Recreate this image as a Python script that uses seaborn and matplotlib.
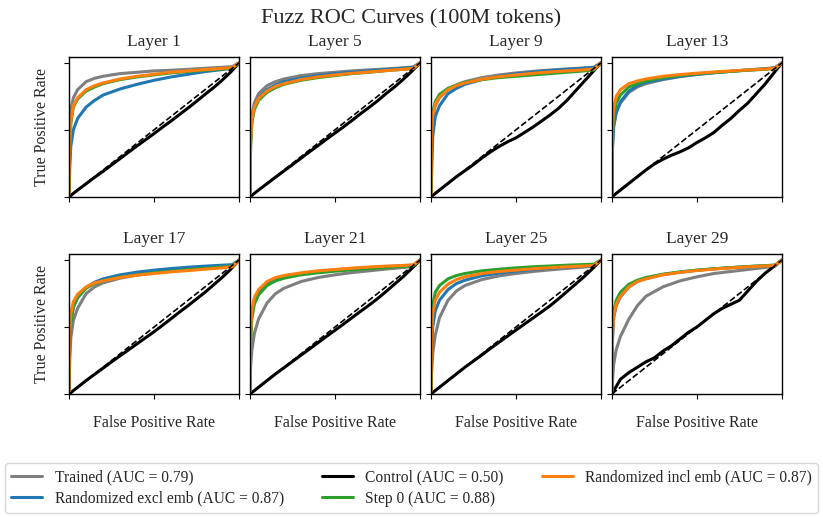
import numpy as np
import pandas as pd
import matplotlib
matplotlib.use("Agg")
import matplotlib.pyplot as plt
from matplotlib.lines import Line2D
import seaborn as sns

# ---- data -----------------------------------------------------------------
LAYERS = [1, 5, 9, 13, 17, 21, 25, 29]
MODELS = ["Trained", "Randomized excl emb", "Control", "Step 0", "Randomized incl emb"]
AUC = [0.79, 0.87, 0.50, 0.88, 0.87]
COLORS = ["#7f7f7f", "#1f77b4", "#000000", "#2ca02c", "#ff7f0e"]

# false positive rate grid for the probe curves
FPR = [0, 0.003, 0.01, 0.025, 0.05, 0.1, 0.15, 0.2, 0.3, 0.4, 0.5, 0.6, 0.7, 0.8, 0.9, 0.96, 1.0]

# true positive rate per layer
TRAINED = {
    1:  [0, 0.45, 0.65, 0.74, 0.80, 0.86, 0.885, 0.90, 0.92, 0.93, 0.94, 0.945, 0.952, 0.96, 0.967, 0.972, 1.0],
    5:  [0, 0.42, 0.60, 0.70, 0.77, 0.83, 0.86, 0.88, 0.905, 0.92, 0.93, 0.94, 0.948, 0.955, 0.963, 0.97, 1.0],
    9:  [0, 0.45, 0.60, 0.68, 0.74, 0.80, 0.835, 0.86, 0.89, 0.91, 0.925, 0.937, 0.947, 0.955, 0.962, 0.968, 1.0],
    13: [0, 0.35, 0.52, 0.63, 0.70, 0.78, 0.82, 0.845, 0.875, 0.897, 0.913, 0.926, 0.937, 0.948, 0.957, 0.965, 1.0],
    17: [0, 0.25, 0.42, 0.55, 0.64, 0.75, 0.80, 0.83, 0.865, 0.888, 0.905, 0.918, 0.93, 0.94, 0.95, 0.957, 1.0],
    21: [0, 0.20, 0.32, 0.45, 0.56, 0.68, 0.75, 0.79, 0.84, 0.87, 0.89, 0.907, 0.92, 0.933, 0.945, 0.953, 1.0],
    25: [0, 0.15, 0.30, 0.44, 0.57, 0.70, 0.77, 0.81, 0.855, 0.882, 0.90, 0.915, 0.927, 0.938, 0.948, 0.955, 1.0],
    29: [0, 0.10, 0.22, 0.33, 0.43, 0.56, 0.66, 0.73, 0.80, 0.845, 0.875, 0.90, 0.915, 0.93, 0.945, 0.955, 1.0],
}
RAND_EXCL = {
    1:  [0, 0.20, 0.38, 0.50, 0.585, 0.67, 0.72, 0.76, 0.805, 0.84, 0.87, 0.895, 0.915, 0.935, 0.95, 0.96, 1.0],
    5:  [0, 0.40, 0.57, 0.67, 0.74, 0.80, 0.835, 0.86, 0.885, 0.905, 0.92, 0.93, 0.94, 0.95, 0.96, 0.966, 1.0],
    9:  [0, 0.15, 0.45, 0.60, 0.68, 0.77, 0.81, 0.84, 0.875, 0.90, 0.918, 0.93, 0.942, 0.952, 0.96, 0.966, 1.0],
    13: [0, 0.38, 0.53, 0.63, 0.71, 0.79, 0.83, 0.855, 0.88, 0.90, 0.915, 0.927, 0.937, 0.947, 0.955, 0.962, 1.0],
    17: [0, 0.38, 0.54, 0.65, 0.72, 0.795, 0.835, 0.86, 0.89, 0.91, 0.925, 0.937, 0.947, 0.955, 0.962, 0.966, 1.0],
    21: [0, 0.42, 0.60, 0.70, 0.765, 0.83, 0.86, 0.878, 0.90, 0.915, 0.927, 0.937, 0.945, 0.952, 0.958, 0.962, 1.0],
    25: [0, 0.33, 0.50, 0.62, 0.70, 0.78, 0.825, 0.85, 0.883, 0.903, 0.918, 0.93, 0.94, 0.948, 0.955, 0.96, 1.0],
    29: [0, 0.40, 0.57, 0.66, 0.725, 0.80, 0.84, 0.862, 0.892, 0.91, 0.924, 0.935, 0.944, 0.952, 0.958, 0.962, 1.0],
}
STEP0 = {
    1:  [0, 0.35, 0.55, 0.67, 0.73, 0.79, 0.82, 0.845, 0.875, 0.895, 0.91, 0.925, 0.935, 0.945, 0.955, 0.962, 1.0],
    5:  [0, 0.38, 0.55, 0.65, 0.72, 0.78, 0.815, 0.84, 0.87, 0.89, 0.905, 0.92, 0.93, 0.942, 0.952, 0.96, 1.0],
    9:  [0, 0.50, 0.63, 0.71, 0.765, 0.81, 0.835, 0.855, 0.875, 0.89, 0.90, 0.91, 0.92, 0.93, 0.94, 0.948, 1.0],
    13: [0, 0.45, 0.60, 0.70, 0.76, 0.82, 0.845, 0.865, 0.89, 0.905, 0.918, 0.928, 0.937, 0.945, 0.952, 0.958, 1.0],
    17: [0, 0.38, 0.54, 0.65, 0.72, 0.79, 0.825, 0.845, 0.873, 0.89, 0.905, 0.917, 0.928, 0.938, 0.948, 0.955, 1.0],
    21: [0, 0.38, 0.56, 0.67, 0.74, 0.81, 0.845, 0.865, 0.89, 0.905, 0.917, 0.927, 0.936, 0.944, 0.952, 0.957, 1.0],
    25: [0, 0.50, 0.66, 0.76, 0.81, 0.86, 0.885, 0.90, 0.92, 0.932, 0.942, 0.95, 0.956, 0.962, 0.967, 0.97, 1.0],
    29: [0, 0.48, 0.62, 0.70, 0.76, 0.82, 0.85, 0.87, 0.895, 0.912, 0.925, 0.935, 0.944, 0.952, 0.958, 0.963, 1.0],
}
RAND_INCL = {
    1:  [0, 0.38, 0.57, 0.68, 0.74, 0.80, 0.83, 0.85, 0.88, 0.90, 0.915, 0.93, 0.94, 0.95, 0.958, 0.965, 1.0],
    5:  [0, 0.40, 0.57, 0.67, 0.735, 0.79, 0.825, 0.845, 0.875, 0.895, 0.91, 0.922, 0.932, 0.943, 0.952, 0.958, 1.0],
    9:  [0, 0.47, 0.61, 0.69, 0.745, 0.80, 0.83, 0.85, 0.878, 0.897, 0.91, 0.922, 0.932, 0.94, 0.948, 0.955, 1.0],
    13: [0, 0.50, 0.66, 0.75, 0.80, 0.845, 0.865, 0.88, 0.90, 0.913, 0.923, 0.932, 0.94, 0.947, 0.954, 0.96, 1.0],
    17: [0, 0.45, 0.60, 0.69, 0.745, 0.80, 0.83, 0.845, 0.87, 0.888, 0.90, 0.912, 0.922, 0.932, 0.942, 0.95, 1.0],
    21: [0, 0.45, 0.62, 0.72, 0.78, 0.84, 0.87, 0.885, 0.905, 0.92, 0.93, 0.94, 0.948, 0.955, 0.96, 0.965, 1.0],
    25: [0, 0.42, 0.60, 0.70, 0.76, 0.82, 0.855, 0.875, 0.90, 0.915, 0.925, 0.935, 0.943, 0.95, 0.956, 0.96, 1.0],
    29: [0, 0.42, 0.58, 0.67, 0.73, 0.80, 0.84, 0.86, 0.89, 0.908, 0.922, 0.933, 0.942, 0.95, 0.956, 0.96, 1.0],
}

# control probe: coarser grid, sits close to chance
CONTROL_FPR = [0, 0.05, 0.1, 0.15, 0.2, 0.25, 0.3, 0.35, 0.4, 0.45, 0.5,
               0.55, 0.6, 0.65, 0.7, 0.75, 0.8, 0.85, 0.9, 0.95, 1.0]
CONTROL = {
    1:  [0, 0.05, 0.097, 0.145, 0.19, 0.238, 0.285, 0.333, 0.38, 0.426, 0.472, 0.52, 0.566, 0.615, 0.663, 0.713, 0.765, 0.815, 0.87, 0.93, 1.0],
    5:  [0, 0.05, 0.098, 0.146, 0.193, 0.24, 0.288, 0.336, 0.382, 0.43, 0.476, 0.522, 0.57, 0.62, 0.667, 0.716, 0.77, 0.82, 0.875, 0.935, 1.0],
    9:  [0, 0.05, 0.10, 0.15, 0.195, 0.24, 0.29, 0.335, 0.375, 0.41, 0.44, 0.48, 0.52, 0.565, 0.61, 0.66, 0.72, 0.79, 0.86, 0.93, 1.0],
    13: [0, 0.05, 0.10, 0.15, 0.20, 0.245, 0.28, 0.31, 0.335, 0.365, 0.405, 0.44, 0.48, 0.535, 0.585, 0.645, 0.70, 0.77, 0.84, 0.92, 1.0],
    17: [0, 0.05, 0.10, 0.147, 0.193, 0.24, 0.285, 0.33, 0.375, 0.42, 0.465, 0.513, 0.562, 0.612, 0.66, 0.71, 0.76, 0.815, 0.87, 0.93, 1.0],
    21: [0, 0.05, 0.10, 0.15, 0.196, 0.243, 0.29, 0.336, 0.383, 0.43, 0.476, 0.522, 0.57, 0.617, 0.663, 0.712, 0.765, 0.82, 0.875, 0.935, 1.0],
    25: [0, 0.05, 0.10, 0.15, 0.20, 0.246, 0.292, 0.34, 0.386, 0.432, 0.477, 0.522, 0.567, 0.612, 0.658, 0.71, 0.765, 0.82, 0.875, 0.935, 1.0],
    29: [0, 0.11, 0.16, 0.20, 0.24, 0.27, 0.32, 0.36, 0.41, 0.46, 0.50, 0.55, 0.60, 0.64, 0.67, 0.70, 0.77, 0.84, 0.90, 0.95, 1.0],
}

# ---- long table -------------------------------------------------------------
rows = []
series = [("Trained", TRAINED, FPR), ("Randomized excl emb", RAND_EXCL, FPR),
          ("Control", CONTROL, CONTROL_FPR), ("Step 0", STEP0, FPR),
          ("Randomized incl emb", RAND_INCL, FPR)]
for name, table, grid in series:
    for layer in LAYERS:
        for x, y in zip(grid, table[layer]):
            rows.append({"layer": layer, "model": name, "fpr": x, "tpr": y})
df = pd.DataFrame(rows)

# ---- style ------------------------------------------------------------------
sns.set_style("ticks")
plt.rcParams["font.family"] = ["Liberation Serif", "DejaVu Serif"]
plt.rcParams["axes.edgecolor"] = "black"
plt.rcParams["axes.linewidth"] = 1.0

palette = dict(zip(MODELS, COLORS))

fig, axes = plt.subplots(2, 4, figsize=(8.23, 5.17), dpi=100)
fig.subplots_adjust(left=0.084, right=0.950, top=0.890, bottom=0.238,
                    wspace=0.065, hspace=0.41)

for ax, layer in zip(axes.flat, LAYERS):
    sub = df[df["layer"] == layer]
    sns.lineplot(data=sub, x="fpr", y="tpr", hue="model", hue_order=MODELS,
                 palette=palette, estimator=None, sort=False, linewidth=2.2,
                 legend=False, ax=ax)
    sns.lineplot(x=[0, 1], y=[0, 1], color="black", linestyle="--",
                 linewidth=1.2, ax=ax)
    ax.set_xlim(0, 1)
    ax.set_ylim(0, 1.045)
    ax.set_xticks([0, 0.5, 1])
    ax.set_yticks([0, 0.5, 1])
    ax.set_xticklabels([])
    ax.set_yticklabels([])
    ax.tick_params(length=3.5, width=0.8, color="black")
    ax.set_title(f"Layer {layer}", fontsize=12.5, pad=8)
    ax.set_xlabel("")
    ax.set_ylabel("")
    for sp in ax.spines.values():
        sp.set_visible(True)
        sp.set_color("black")

for ax in axes[1]:
    ax.set_xlabel("False Positive Rate", fontsize=11.5, labelpad=8)
for ax in axes[:, 0]:
    ax.set_ylabel("True Positive Rate", fontsize=11.5, labelpad=7)

fig.suptitle("Fuzz ROC Curves (100M tokens)", fontsize=16, y=0.983)

handles = [Line2D([], [], color=c, linewidth=2.2) for c in COLORS]
labels = [f"{m} (AUC = {a:.2f})" for m, a in zip(MODELS, AUC)]
fig.legend(handles, labels, loc="lower left", ncol=3, mode="expand",
           bbox_to_anchor=(0.006, 0.008, 0.988, 0.09), fontsize=11.2,
           frameon=True, fancybox=True, edgecolor="#cccccc",
           handlelength=2.0, labelspacing=0.35, borderaxespad=0.0)

fig.savefig("out.png", dpi=100)
